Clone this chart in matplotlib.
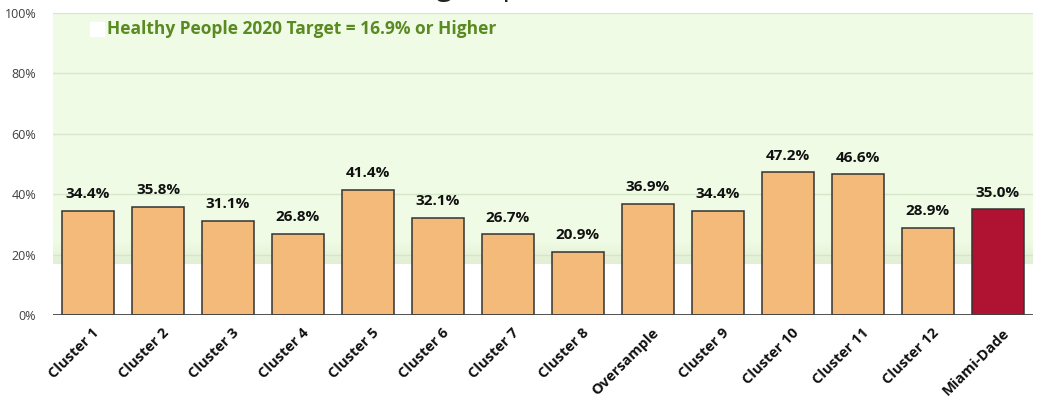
import matplotlib
matplotlib.use("Agg")
import matplotlib.pyplot as plt
import matplotlib.transforms as mtransforms
import numpy as np

categories = ["Cluster 1", "Cluster 2", "Cluster 3", "Cluster 4", "Cluster 5",
              "Cluster 6", "Cluster 7", "Cluster 8", "Oversample", "Cluster 9",
              "Cluster 10", "Cluster 11", "Cluster 12", "Miami-Dade"]
values = [34.4, 35.8, 31.1, 26.8, 41.4, 32.1, 26.7, 20.9, 36.9, 34.4,
          47.2, 46.6, 28.9, 35.0]
target = 16.9
target_label = "Healthy People 2020 Target = 16.9% or Higher"
title = "(Among Hispanic Adults)"
y_ticks = [0, 20, 40, 60, 80, 100]

plt.rcParams['font.family'] = ['Open Sans', 'DejaVu Sans']

fig = plt.figure(figsize=(10.4, 4.04), dpi=100)
ax = fig.add_axes([0.051, 0.2203, 0.942, 0.7475])

n = len(categories)
xs = np.arange(n)

# target zone shading
ax.axhspan(target, 100, color='#effbe4', zorder=0, lw=0)
grad = np.linspace(0, 1, 50).reshape(-1, 1)
ax.imshow(grad, extent=(-0.5, n - 0.5, target, 24.5), origin='upper',
          cmap=matplotlib.colors.LinearSegmentedColormap.from_list(
              'g', ['#effbe4', '#e2efd4']),
          aspect='auto', zorder=0.5, interpolation='bilinear')
ax.set_xlim(-0.5, n - 0.5)
ax.set_ylim(0, 100)

for t in y_ticks[1:]:
    ax.axhline(t, color='#d6e6c8', lw=1, zorder=1)

colors = ['#f3ba7a'] * (n - 1) + ['#b01231']
ax.bar(xs, values, width=0.74, color=colors, edgecolor='#333333',
       linewidth=1.1, zorder=3)

for x, v in zip(xs, values):
    ax.text(x, v + 3.2, f"{v:.1f}%", ha='center', va='bottom',
            fontsize=11, fontweight='bold', color='#111111', zorder=4)

ax.axhline(0, color='#444444', lw=1.3, zorder=4)

ax.set_yticks(y_ticks)
ax.set_yticklabels([f"{t}%" for t in y_ticks], fontsize=9, color='#404040')
ax.set_xticks(xs)
ax.set_xticklabels(categories, rotation=45, ha='right', rotation_mode='anchor',
                   fontsize=10.5, fontweight='bold', color='#111111')
ax.tick_params(axis='both', length=0)
ax.tick_params(axis='y', pad=12)
ax.tick_params(axis='x', pad=8)
shift = mtransforms.ScaledTranslation(4 / 100, 0, fig.dpi_scale_trans)
for lbl in ax.get_xticklabels():
    lbl.set_transform(lbl.get_transform() + shift)

for s in ax.spines.values():
    s.set_visible(False)

# legend entry for target zone
ax.scatter([0.13], [94.8], marker='s', s=95, color='white', zorder=5,
           clip_on=False)
ax.text(0.27, 94.8, target_label, ha='left', va='center', fontsize=12.5,
        fontweight='bold', color='#5a8a22', zorder=5)

# title, cut off by the top of the image
fig.text(0.4925, 1.012, title, ha='center', va='baseline', fontsize=21,
         color='#222222')

fig.savefig("out.png", dpi=100)
